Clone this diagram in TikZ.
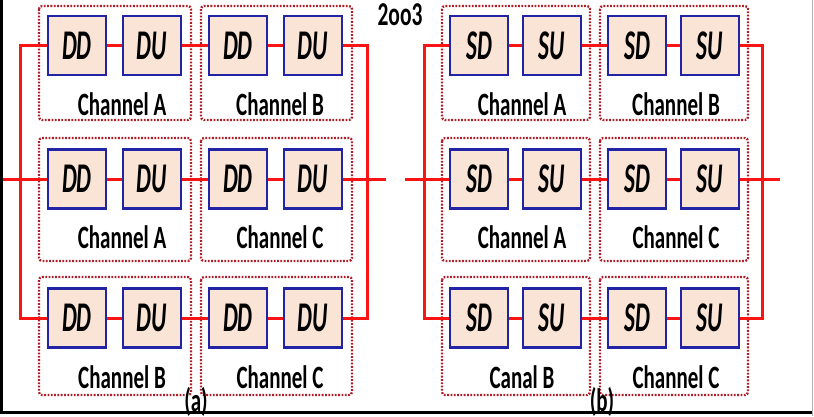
\documentclass[tikz,border=0pt]{standalone}
\usepackage{fontspec}
\setmainfont{Carlito}
\usepackage{graphicx}
\definecolor{wirered}{RGB}{250,20,20}
\definecolor{boxblue}{RGB}{35,35,165}
\definecolor{boxfill}{RGB}{250,228,214}
\definecolor{grpred}{RGB}{175,30,40}
\newcommand{\tallb}[1]{\scalebox{1}[1.55]{\bfseries #1}}
\newcommand{\tallbi}[1]{\scalebox{1}[1.8]{\bfseries\itshape #1}}
\pgfdeclarelayer{grplayer}
\pgfdeclarelayer{wirelayer}
\pgfsetlayers{grplayer,wirelayer,main}
\begin{document}
\begin{tikzpicture}[x=1pt,y=-1pt,
  unit/.style={draw=boxblue, line width=2.5pt, fill=boxfill,
    minimum width=58pt, minimum height=59pt, inner sep=0pt,
    font=\fontsize{23.5}{23.5}\selectfont},
  wire/.style={draw=wirered, line width=3pt},
  grp/.style={draw=grpred, line width=2.3pt, dash pattern=on 1.8pt off 1.5pt,
    rounded corners=3pt},
  chan/.style={anchor=base, inner sep=0pt, font=\fontsize{21}{21}\selectfont},
]
\useasboundingbox (0,0) rectangle (814,416);

% ---------- (a): DD / DU chains ----------
\foreach \r/\y/\gt/\gb/\lb/\la/\lc in
  {1/45.5/6/120/115/Channel A/Channel B,
   2/179/138/261/248/Channel A/Channel C,
   3/318/277/395/388/Channel B/Channel C} {
  \begin{pgfonlayer}{grplayer}
    \draw[grp] (39,\gt) rectangle (191,\gb);
    \draw[grp] (201,\gt) rectangle (352,\gb);
  \end{pgfonlayer}
  \node[unit] (a\r1) at (77,\y)  {\tallbi{DD}};
  \node[unit] (a\r2) at (152,\y) {\tallbi{DU}};
  \node[unit] (a\r3) at (238,\y) {\tallbi{DD}};
  \node[unit] (a\r4) at (313,\y) {\tallbi{DU}};
  \node[chan] (aLab\r1) at (122,\lb) {\tallb{\la}};
  \node[chan] (aLab\r2) at (280,\lb) {\tallb{\lc}};
  \begin{pgfonlayer}{wirelayer}
    \draw[wire] (a\r1) -- (a\r2) -- (a\r3) -- (a\r4);
  \end{pgfonlayer}
}

% ---------- (b): SD / SU chains ----------
\foreach \r/\y/\gt/\gb/\lb/\la/\lc in
  {1/45.5/6/120/115/Channel A/Channel B,
   2/179/138/261/248/Channel A/Channel C,
   3/318/277/395/388/Canal B/Channel C} {
  \begin{pgfonlayer}{grplayer}
    \draw[grp] (442,\gt) rectangle (590,\gb);
    \draw[grp] (600,\gt) rectangle (748,\gb);
  \end{pgfonlayer}
  \node[unit] (b\r1) at (479,\y) {\tallbi{SD}};
  \node[unit] (b\r2) at (552,\y) {\tallbi{SU}};
  \node[unit] (b\r3) at (637,\y) {\tallbi{SD}};
  \node[unit] (b\r4) at (710,\y) {\tallbi{SU}};
  \node[chan] (bLab\r1) at (522,\lb) {\tallb{\la}};
  \node[chan] (bLab\r2) at (676,\lb) {\tallb{\lc}};
  \begin{pgfonlayer}{wirelayer}
    \draw[wire] (b\r1) -- (b\r2) -- (b\r3) -- (b\r4);
  \end{pgfonlayer}
}

% bus bars and terminals
\coordinate (aL1) at (20,45.5);  \coordinate (aL3) at (20,318);
\coordinate (aR1) at (367,45.5); \coordinate (aR3) at (367,318);
\coordinate (aIn) at (3,179);    \coordinate (aOut) at (386,179);
\coordinate (bL1) at (424,45.5); \coordinate (bL3) at (424,318);
\coordinate (bR1) at (762,45.5); \coordinate (bR3) at (762,318);
\coordinate (bIn) at (405,179);  \coordinate (bOut) at (780,179);
\begin{pgfonlayer}{wirelayer}
  \draw[wire] (a11) -- (aL1) -- (aL3) -- (a31);
  \draw[wire] (a14) -- (aR1) -- (aR3) -- (a34);
  \draw[wire] (aIn) -- (a21);
  \draw[wire] (a24) -- (aOut);
  \draw[wire] (b11) -- (bL1) -- (bL3) -- (b31);
  \draw[wire] (b14) -- (bR1) -- (bR3) -- (b34);
  \draw[wire] (bIn) -- (b21);
  \draw[wire] (b24) -- (bOut);
\end{pgfonlayer}

% titles and captions
\node[font=\fontsize{21.5}{21.5}\selectfont, inner sep=0pt] (title) at (400,15) {\tallb{2oo3}};
\node[chan] (capA) at (196,411) {\tallb{(a)}};
\node[chan] (capB) at (602,411) {\tallb{(b)}};

% frame
\draw[black, line width=3pt] (1.5,0) -- (1.5,412) -- (812,412);
\draw[black!30, line width=1pt] (812.5,0) -- (812.5,416);
\end{tikzpicture}
\end{document}
